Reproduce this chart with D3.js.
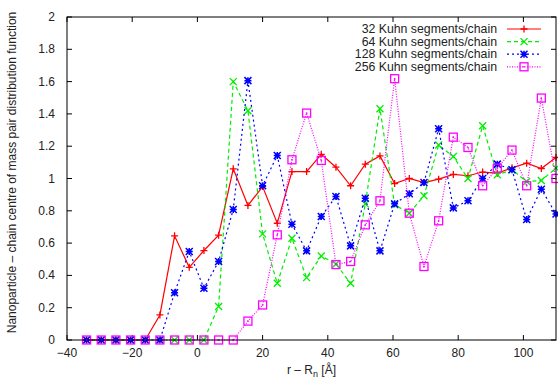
<!DOCTYPE html>
<html><head><meta charset="utf-8">
<script src="https://cdn.jsdelivr.net/npm/d3@7"></script>
<style>body{margin:0;background:#fff}svg{display:block;font-family:"Liberation Sans",Arial,sans-serif}</style>
</head><body><svg id="c" width="558" height="379"></svg>
<script>
const xValues = d3.range(33).map(i => -34 + 4.5 * i);
const seriesNames = ["32 Kuhn segments/chain","64 Kuhn segments/chain","128 Kuhn segments/chain","256 Kuhn segments/chain"];
const kuhn32 = [0,0,0,0,0,0.155,0.645,0.45,0.554,0.649,1.06,0.833,0.95,0.723,1.043,1.043,1.15,1.07,0.955,1.089,1.14,0.969,1.0,0.975,0.996,1.025,1.017,1.04,1.033,1.066,1.095,1.062,1.13];
const kuhn64 = [0,0,0,0,0,0,0,0,0,0.207,1.6,1.42,0.657,0.351,0.63,0.386,0.52,0.471,0.351,0.843,1.432,0.837,0.785,0.893,1.207,1.136,1.0,1.327,1.023,1.054,0.981,0.988,1.064];
const kuhn128 = [0,0,0,0,0,0,0.293,0.548,0.32,0.486,0.808,1.606,0.955,1.143,0.717,0.552,0.765,0.889,0.583,0.878,0.552,0.843,0.905,0.975,1.308,0.818,0.862,1.0,1.089,1.054,0.746,0.934,0.78];
const kuhn256 = [0,0,0,0,0,0,0,0,0,0,0,0.117,0.217,0.651,1.116,1.405,1.112,0.467,0.486,0.713,0.862,1.618,0.785,0.455,0.738,1.256,1.192,0.955,1.064,1.176,0.955,1.498,1.0];
const xTicks = [-40,-20,0,20,40,60,80,100];
const yTicks = [0,0.2,0.4,0.6,0.8,1,1.2,1.4,1.6,1.8,2];

const L = 67, R = 556, T = 17, B = 340;
const svg = d3.select("#c");
const x = d3.scaleLinear().domain([-40,110]).range([L,R]);
const y = d3.scaleLinear().domain([0,2]).range([B,T]);

const styles = [
  {color:"#ff0000", dash:null, marker:"plus"},
  {color:"#00ee00", dash:"4,3", marker:"cross"},
  {color:"#0000ff", dash:"2,3", marker:"star"},
  {color:"#ff00ff", dash:"1,1.5", marker:"square"}
];
const data = [kuhn32,kuhn64,kuhn128,kuhn256];

// axes
const tl = 5;
const ax = svg.append("g").attr("font-size", 12).attr("fill","#222");
xTicks.forEach(t => {
  ax.append("line").attr("x1",x(t)).attr("x2",x(t)).attr("y1",B).attr("y2",B-tl).attr("stroke","#000");
  ax.append("line").attr("x1",x(t)).attr("x2",x(t)).attr("y1",T).attr("y2",T+tl).attr("stroke","#000");
  ax.append("text").attr("x",x(t)).attr("y",B+17).attr("text-anchor","middle").text(t<0?"\u2212"+(-t):t);
});
yTicks.forEach(t => {
  ax.append("line").attr("x1",L).attr("x2",L+tl).attr("y1",y(t)).attr("y2",y(t)).attr("stroke","#000");
  ax.append("line").attr("x1",R).attr("x2",R-tl).attr("y1",y(t)).attr("y2",y(t)).attr("stroke","#000");
  ax.append("text").attr("x",L-12).attr("y",y(t)+4).attr("text-anchor","end").text(t);
});
svg.append("text").attr("x",(L+R)/2).attr("y",374).attr("text-anchor","middle").attr("font-size",12).attr("fill","#222")
  .html('r \u2013 R<tspan font-size="9" dy="3">n</tspan><tspan dy="-3"> [\u00c5]</tspan>');
svg.append("text").attr("transform",`translate(16,${(T+B)/2-6}) rotate(-90)`).attr("text-anchor","middle")
  .attr("font-size",12).attr("fill","#222").text("Nanoparticle \u2013 chain centre of mass pair distribution function");

function marker(g, type, cx, cy, color){
  const s = 3.5;
  if(type==="plus"||type==="star"){
    g.append("path").attr("d",`M${cx-s},${cy}H${cx+s}M${cx},${cy-s}V${cy+s}`).attr("stroke",color).attr("stroke-width",type==="star"?1.5:1.3).attr("fill","none");
  }
  if(type==="cross"||type==="star"){
    g.append("path").attr("d",`M${cx-s},${cy-s}L${cx+s},${cy+s}M${cx-s},${cy+s}L${cx+s},${cy-s}`).attr("stroke",color).attr("stroke-width",type==="star"?1.5:1.3).attr("fill","none");
  }
  if(type==="star"){
    g.append("rect").attr("x",cx-2).attr("y",cy-2).attr("width",4).attr("height",4).attr("fill",color);
  }
  if(type==="square"){
    g.append("rect").attr("x",cx-4).attr("y",cy-4).attr("width",8).attr("height",8).attr("stroke",color).attr("stroke-width",1.3).attr("fill","none");
    g.append("rect").attr("x",cx-0.75).attr("y",cy-0.75).attr("width",1.5).attr("height",1.5).attr("fill",color);
  }
}

const line = d3.line().x((d,i)=>x(xValues[i])).y(d=>y(d));
data.forEach((vals, k) => {
  const st = styles[k];
  const g = svg.append("g");
  g.append("path").datum(vals).attr("d",line).attr("fill","none").attr("stroke",st.color)
    .attr("stroke-width",1.2).attr("stroke-dasharray",st.dash);
  vals.forEach((v,i) => marker(g, st.marker, x(xValues[i]), y(v), st.color));
});

// frame
svg.append("rect").attr("x",L).attr("y",T).attr("width",R-L).attr("height",B-T).attr("fill","none").attr("stroke","#000").attr("stroke-width",1);

// legend
const lg = svg.append("g").attr("font-size",12.3).attr("fill","#222");
seriesNames.forEach((n,k) => {
  const yy = 29 + k*12.6;
  const st = styles[k];
  lg.append("text").attr("x",497).attr("y",yy+4).attr("text-anchor","end").text(n);
  lg.append("line").attr("x1",507).attr("x2",541).attr("y1",yy).attr("y2",yy).attr("stroke",st.color).attr("stroke-width",1.2).attr("stroke-dasharray",st.dash);
  marker(lg, st.marker, 524, yy, st.color);
});
</script></body></html>
